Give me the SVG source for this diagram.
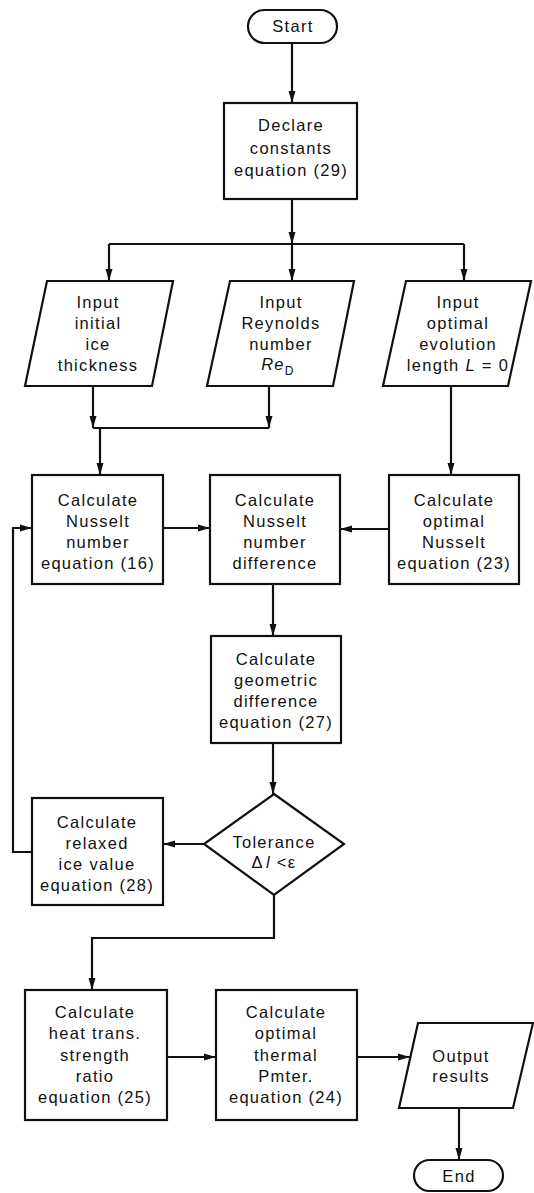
<svg xmlns="http://www.w3.org/2000/svg" width="534" height="1193" viewBox="0 0 534 1193">
<style>
.shape{fill:#fff;stroke:#111;stroke-width:2.2}
.conn{fill:none;stroke:#111;stroke-width:2.2}
text{font-family:"Liberation Sans",Arial,sans-serif;font-size:16.5px;letter-spacing:1.3px;fill:#111;text-anchor:middle}
.it{font-style:italic}
</style>
<defs>
<marker id="ah" markerUnits="userSpaceOnUse" markerWidth="12" markerHeight="8" refX="12" refY="4" orient="auto">
<path d="M0,0.5 L12,4 L0,7.5 z" fill="#111"/>
</marker>
</defs>
<rect width="534" height="1193" fill="#fff"/>
<g id="connectors">
<path class="conn" d="M292,43 V103" marker-end="url(#ah)"/>
<path class="conn" d="M292,199 V244" marker-end="url(#ah)"/>
<path class="conn" d="M109,244 H464"/>
<path class="conn" d="M109,244 V281" marker-end="url(#ah)"/>
<path class="conn" d="M292,244 V281" marker-end="url(#ah)"/>
<path class="conn" d="M464,244 V281" marker-end="url(#ah)"/>
<path class="conn" d="M93,386 V428" marker-end="url(#ah)"/>
<path class="conn" d="M269,386 V428" marker-end="url(#ah)"/>
<path class="conn" d="M93,428 H269"/>
<path class="conn" d="M100,428 V475" marker-end="url(#ah)"/>
<path class="conn" d="M451,386 V475" marker-end="url(#ah)"/>
<path class="conn" d="M163,528 H210" marker-end="url(#ah)"/>
<path class="conn" d="M389,529 H340" marker-end="url(#ah)"/>
<path class="conn" d="M273,584 V636" marker-end="url(#ah)"/>
<path class="conn" d="M273,743 V794" marker-end="url(#ah)"/>
<path class="conn" d="M204,844 H163" marker-end="url(#ah)"/>
<path class="conn" d="M32,852 H13 V528 H32" marker-end="url(#ah)"/>
<path class="conn" d="M274,895 V938 H92 V990" marker-end="url(#ah)"/>
<path class="conn" d="M167,1057 H216" marker-end="url(#ah)"/>
<path class="conn" d="M357,1057 H410" marker-end="url(#ah)"/>
<path class="conn" d="M459,1108 V1160" marker-end="url(#ah)"/>
</g>
<g id="start">
<rect class="shape" x="248" y="10" width="89" height="33" rx="16.5"/>
<text x="293" y="32">Start</text>
</g>
<g id="declare">
<rect class="shape" x="224" y="103" width="133" height="96"/>
<text x="291" y="131">Declare</text>
<text x="291" y="154">constants</text>
<text x="291" y="176">equation (29)</text>
</g>
<g id="input-ice">
<polygon class="shape" points="47,281 173,281 152,386 25,386"/>
<text x="98" y="308">Input</text>
<text x="98" y="329">initial</text>
<text x="98" y="350">ice</text>
<text x="98" y="371">thickness</text>
</g>
<g id="input-reynolds">
<polygon class="shape" points="230,281 354,281 333,386 207,386"/>
<text x="281" y="308">Input</text>
<text x="281" y="329">Reynolds</text>
<text x="281" y="350">number</text>
<text x="278" y="370"><tspan class="it">Re</tspan><tspan font-size="12" dy="5">D</tspan></text>
</g>
<g id="input-length">
<polygon class="shape" points="406,281 531,281 508,386 383,386"/>
<text x="458" y="308">Input</text>
<text x="458" y="329">optimal</text>
<text x="458" y="350">evolution</text>
<text x="458" y="371">length <tspan class="it">L</tspan> = 0</text>
</g>
<g id="calc-nusselt">
<rect class="shape" x="32" y="475" width="131" height="109"/>
<text x="98" y="506">Calculate</text>
<text x="98" y="527">Nusselt</text>
<text x="98" y="548">number</text>
<text x="98" y="569">equation (16)</text>
</g>
<g id="calc-diff">
<rect class="shape" x="210" y="475" width="130" height="109"/>
<text x="275" y="506">Calculate</text>
<text x="275" y="527">Nusselt</text>
<text x="275" y="548">number</text>
<text x="275" y="569">difference</text>
</g>
<g id="calc-optimal">
<rect class="shape" x="389" y="475" width="130" height="109"/>
<text x="454" y="506">Calculate</text>
<text x="454" y="527">optimal</text>
<text x="454" y="548">Nusselt</text>
<text x="454" y="569">equation (23)</text>
</g>
<g id="calc-geom">
<rect class="shape" x="211" y="636" width="130" height="107"/>
<text x="276" y="665">Calculate</text>
<text x="276" y="686">geometric</text>
<text x="276" y="707">difference</text>
<text x="276" y="728">equation (27)</text>
</g>
<g id="tolerance">
<polygon class="shape" points="274,794 344,844 274,895 204,844"/>
<text x="274" y="848">Tolerance</text>
<text x="274" y="868">Δ<tspan class="it" dx="2">l</tspan> &lt;ε</text>
</g>
<g id="calc-relaxed">
<rect class="shape" x="32" y="798" width="131" height="107"/>
<text x="97" y="828">Calculate</text>
<text x="97" y="849">relaxed</text>
<text x="97" y="870">ice value</text>
<text x="97" y="891">equation (28)</text>
</g>
<g id="calc-heat">
<rect class="shape" x="25" y="990" width="142" height="130"/>
<text x="95" y="1018">Calculate</text>
<text x="95" y="1039">heat trans.</text>
<text x="95" y="1061">strength</text>
<text x="95" y="1082">ratio</text>
<text x="95" y="1103">equation (25)</text>
</g>
<g id="calc-thermal">
<rect class="shape" x="216" y="990" width="141" height="130"/>
<text x="286" y="1018">Calculate</text>
<text x="286" y="1039">optimal</text>
<text x="286" y="1061">thermal</text>
<text x="286" y="1082">Pmter.</text>
<text x="286" y="1103">equation (24)</text>
</g>
<g id="output">
<polygon class="shape" points="418,1023 533,1023 513,1108 399,1108"/>
<text x="461" y="1062">Output</text>
<text x="461" y="1082">results</text>
</g>
<g id="end">
<rect class="shape" x="414" y="1160" width="89" height="31" rx="15.5"/>
<text x="459" y="1182">End</text>
</g>
</svg>
